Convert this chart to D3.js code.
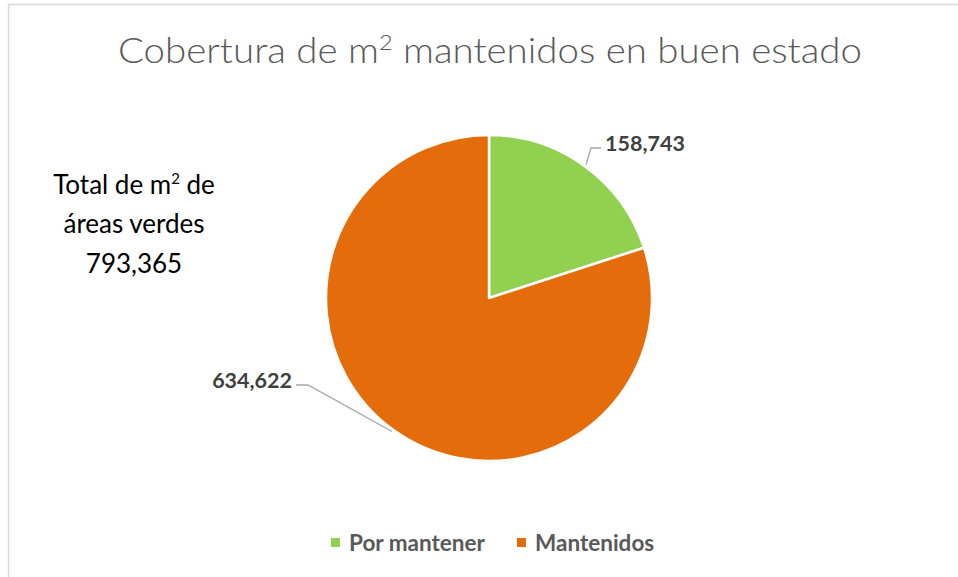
<!DOCTYPE html>
<html><head><meta charset="utf-8">
<script src="https://cdn.jsdelivr.net/npm/d3@7"></script>
<style>html,body{margin:0;padding:0;background:#fff;}svg{display:block;}</style>
</head><body>
<script>
const categories = ["Por mantener", "Mantenidos"];
const values = [158743, 634622];
const colors = ["#92D050", "#E46C0A"];
const totalLabel = ["Total de m", "áreas verdes", "793,365"];
const title = "Cobertura de m² mantenidos en buen estado";

const W = 958, H = 577;
const svg = d3.select("body").append("svg").attr("width", W).attr("height", H);

svg.append("rect").attr("x", 8.5).attr("y", 4.5).attr("width", W).attr("height", H)
  .attr("fill", "#fff").attr("stroke", "#d9d9d9").attr("stroke-width", 1.5);

// Title
const t = svg.append("text").attr("x", 490).attr("y", 63).attr("text-anchor", "middle")
  .attr("font-family", "Lato").attr("font-weight", 300).attr("font-size", 36).attr("fill", "#595959");
t.append("tspan").text("Cobertura de m");
t.append("tspan").text("2").attr("font-size", 22).attr("dy", -13);
t.append("tspan").text(" mantenidos en buen estado").attr("dy", 13);
t.attr("textLength", 744).attr("lengthAdjust", "spacingAndGlyphs");

// Total text
const tt = svg.append("g").attr("font-family", "Lato").attr("font-size", 26).attr("fill", "#000").attr("text-anchor", "middle");
const l1 = tt.append("text").attr("x", 134).attr("y", 194);
l1.append("tspan").text(totalLabel[0]);
l1.append("tspan").text("2").attr("font-size", 15).attr("dy", -10);
l1.append("tspan").text(" de").attr("dy", 10);
tt.append("text").attr("x", 134).attr("y", 233).text(totalLabel[1]);
tt.append("text").attr("x", 134).attr("y", 273).text(totalLabel[2]);

// Pie
const cx = 489, cy = 298, R = 163;
const pie = d3.pie().sort(null).value(d => d)(values);
const arc = d3.arc().innerRadius(0).outerRadius(R);
const g = svg.append("g").attr("transform", `translate(${cx},${cy})`);
g.selectAll("path").data(pie).join("path").attr("d", arc)
  .attr("fill", (d, i) => colors[i]).attr("stroke", "#fff").attr("stroke-width", 2.5).attr("stroke-linejoin", "round");

// Labels with leaders
const fmt = d3.format(",");
const labelPos = [{ex: 591, ey: 148, tx: 601, anchor: "start", lx: 605},
                  {ex: 308, ey: 385, tx: 296, anchor: "end", lx: 292}];
const outer = d3.arc().innerRadius(R + 2).outerRadius(R + 2);
pie.forEach((d, i) => {
  const [px, py] = outer.centroid(d);
  const p = labelPos[i];
  svg.append("polyline")
    .attr("points", `${cx + px},${cy + py} ${p.ex},${p.ey} ${p.tx},${p.ey}`)
    .attr("fill", "none").attr("stroke", "#a6a6a6").attr("stroke-width", 1.3);
  svg.append("text").attr("x", p.lx).attr("y", p.ey - 5).attr("dy", "0.35em")
    .attr("text-anchor", p.anchor).attr("font-family", "Lato").attr("font-weight", 700)
    .attr("font-size", 21.5).attr("fill", "#404040").text(fmt(d.data));
});

// Legend
const legX = [331, 517];
const lg = svg.append("g");
categories.forEach((c, i) => {
  lg.append("rect").attr("x", legX[i]).attr("y", 538).attr("width", 9).attr("height", 9).attr("fill", colors[i]);
  lg.append("text").attr("x", legX[i] + 18).attr("y", 543).attr("dy", "0.35em")
    .attr("font-family", "Lato").attr("font-weight", 700).attr("font-size", 22.5)
    .attr("fill", "#595959").text(c);
});
</script>
</body></html>
